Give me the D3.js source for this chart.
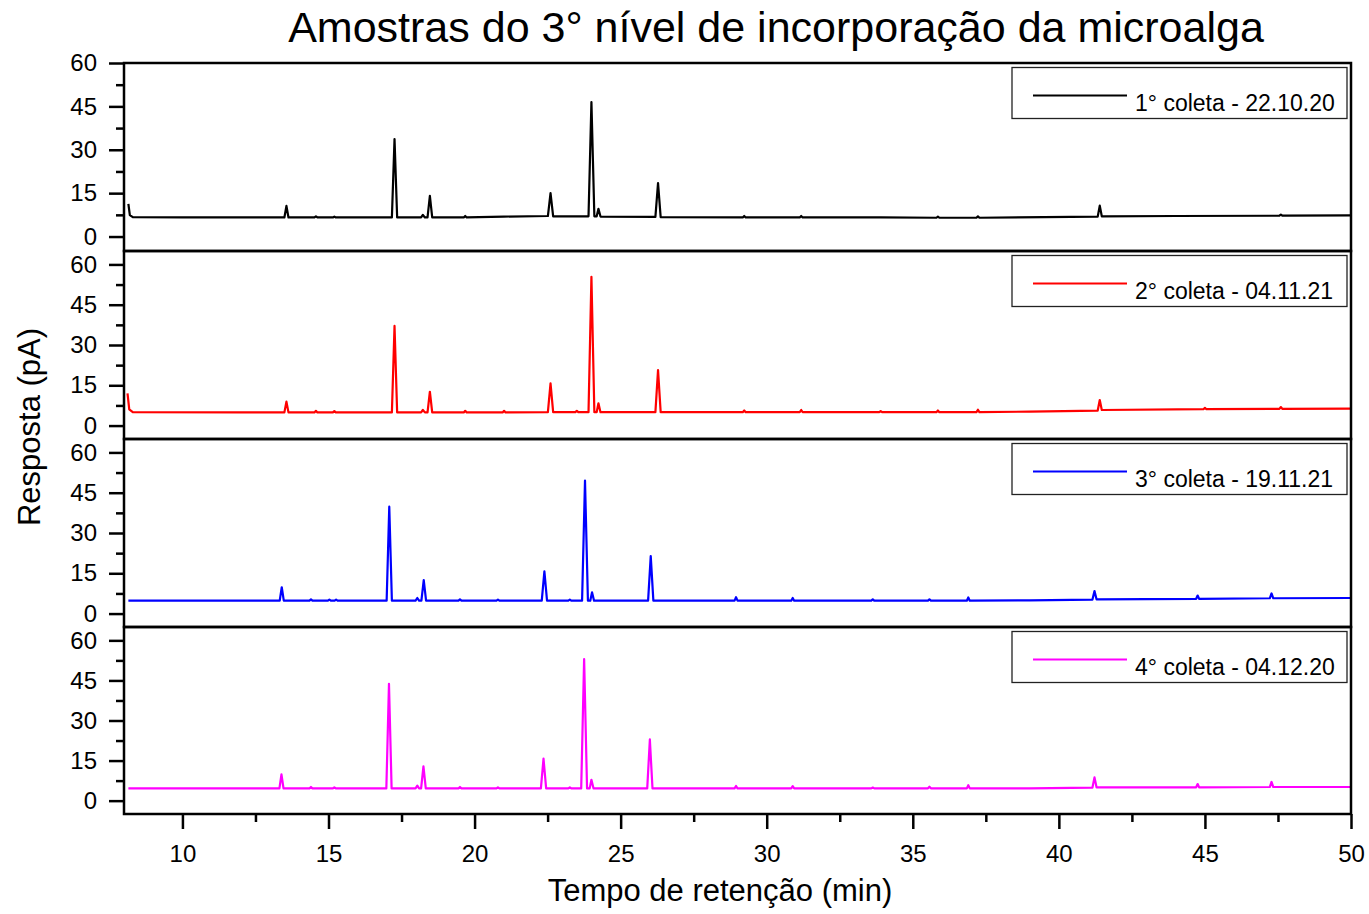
<!DOCTYPE html>
<html>
<head>
<meta charset="utf-8">
<script src="https://cdn.jsdelivr.net/npm/d3@7"></script>
<style>
  body { margin: 0; background: #ffffff; }
  svg { font-family: "Liberation Sans", Arial, sans-serif; }
</style>
</head>
<body>
<svg id="chart" width="1369" height="914"></svg>
<script>
// Chart values
var series_names = ["1° coleta - 22.10.20", "2° coleta - 04.11.21", "3° coleta - 19.11.21", "4° coleta - 04.12.20"];
var x_ticks = [10, 15, 20, 25, 30, 35, 40, 45, 50];
var x_minor = [12.5, 17.5, 22.5, 27.5, 32.5, 37.5, 42.5, 47.5];
var y_ticks = [0, 15, 30, 45, 60];
var y_minor = [7.5, 22.5, 37.5, 52.5];

// [tempo (min), resposta (pA)]
var coleta_1 = [
  [8.15, 11.3], [8.2, 7.4], [8.3, 6.7], [10.0, 6.6], [12.0, 6.6],
  [13.49, 6.6], [13.56, 10.6], [13.63, 6.6],
  [14.52, 6.6], [14.57, 7.0], [14.62, 6.6],
  [15.15, 6.6], [15.2, 6.9], [15.25, 6.6],
  [17.17, 6.6], [17.26, 33.7], [17.35, 6.6],
  [18.17, 6.6], [18.23, 7.5], [18.3, 6.6],
  [18.39, 6.6], [18.47, 14.1], [18.55, 6.6],
  [19.63, 6.6], [19.68, 7.1], [19.73, 6.6],
  [21.0, 6.9], [22.51, 7.1], [22.6, 15.0], [22.69, 7.0],
  [23.9, 7.0], [24.0, 46.5], [24.1, 7.0],
  [24.18, 7.0], [24.24, 9.6], [24.31, 6.9],
  [26.19, 6.8], [26.28, 18.5], [26.37, 6.7],
  [29.18, 6.6], [29.23, 7.1], [29.28, 6.6],
  [31.13, 6.6], [31.18, 7.1], [31.23, 6.6],
  [33.9, 6.6], [35.81, 6.5], [35.86, 6.9], [35.91, 6.5],
  [37.18, 6.5], [37.23, 7.0], [37.28, 6.5],
  [39.5, 6.7], [41.33, 6.9], [41.4, 10.7], [41.47, 7.0],
  [44.0, 7.1], [47.55, 7.2], [47.6, 7.6], [47.65, 7.2], [50.0, 7.3]
];

var coleta_2 = [
  [8.12, 12.0], [8.18, 6.0], [8.3, 5.0], [12.0, 4.9],
  [13.49, 4.9], [13.56, 8.9], [13.63, 4.9],
  [14.52, 4.9], [14.57, 5.5], [14.62, 4.9],
  [15.15, 4.9], [15.2, 5.4], [15.25, 4.9],
  [17.17, 4.9], [17.26, 37.1], [17.35, 4.9],
  [18.17, 4.9], [18.23, 5.8], [18.3, 4.9],
  [18.39, 4.9], [18.47, 12.6], [18.55, 4.9],
  [19.63, 4.9], [19.68, 5.5], [19.73, 4.9],
  [20.96, 4.9], [21.01, 5.5], [21.06, 4.9],
  [22.51, 5.0], [22.6, 15.7], [22.69, 5.0],
  [23.45, 5.0], [23.5, 5.5], [23.55, 5.0],
  [23.9, 5.0], [24.0, 55.4], [24.1, 5.0],
  [24.18, 5.0], [24.24, 8.3], [24.31, 5.0],
  [26.19, 5.0], [26.28, 20.7], [26.37, 5.0],
  [29.18, 5.0], [29.23, 5.6], [29.28, 5.0],
  [31.13, 5.0], [31.18, 5.8], [31.23, 5.0],
  [33.85, 5.0], [33.9, 5.4], [33.95, 5.0],
  [35.81, 5.0], [35.86, 5.6], [35.91, 5.0],
  [37.18, 5.0], [37.23, 5.9], [37.28, 5.0],
  [39.0, 5.2], [41.33, 5.6], [41.4, 9.5], [41.47, 5.8],
  [44.95, 6.1], [45.0, 6.6], [45.05, 6.1],
  [47.55, 6.2], [47.6, 6.9], [47.65, 6.2], [50.0, 6.3]
];

var coleta_3 = [
  [8.15, 4.8], [13.33, 4.8], [13.4, 9.8], [13.47, 4.8],
  [14.35, 4.8], [14.4, 5.3], [14.45, 4.8],
  [14.98, 4.8], [15.03, 5.2], [15.08, 4.8],
  [15.21, 4.8], [15.26, 5.2], [15.31, 4.8],
  [16.99, 4.8], [17.08, 39.8], [17.17, 4.8],
  [17.98, 4.8], [18.04, 5.8], [18.1, 4.8],
  [18.18, 4.8], [18.26, 12.5], [18.34, 4.8],
  [19.45, 4.8], [19.5, 5.3], [19.55, 4.8],
  [20.75, 4.8], [20.8, 5.2], [20.85, 4.8],
  [22.3, 4.8], [22.39, 15.7], [22.48, 4.8],
  [23.21, 4.8], [23.26, 5.2], [23.31, 4.8],
  [23.68, 4.8], [23.78, 49.5], [23.88, 4.8],
  [23.96, 4.8], [24.02, 7.9], [24.09, 4.8],
  [25.94, 4.8], [26.03, 21.4], [26.12, 4.8],
  [28.9, 4.8], [28.95, 6.1], [29.0, 4.8],
  [30.84, 4.8], [30.89, 5.8], [30.94, 4.8],
  [33.58, 4.8], [33.63, 5.3], [33.68, 4.8],
  [35.52, 4.8], [35.57, 5.3], [35.62, 4.8],
  [36.85, 4.8], [36.9, 6.0], [36.95, 4.8],
  [39.0, 4.9], [41.15, 5.2], [41.22, 8.4], [41.29, 5.3],
  [44.7, 5.5], [44.75, 6.7], [44.8, 5.5],
  [47.22, 5.7], [47.28, 7.5], [47.34, 5.7], [50.0, 5.8]
];

var coleta_4 = [
  [8.15, 4.6], [13.32, 4.6], [13.39, 9.8], [13.46, 4.6],
  [14.35, 4.6], [14.4, 5.1], [14.45, 4.6],
  [15.15, 4.6], [15.2, 5.0], [15.25, 4.6],
  [16.98, 4.6], [17.07, 43.7], [17.16, 4.6],
  [17.98, 4.6], [18.04, 5.6], [18.1, 4.6],
  [18.17, 4.6], [18.25, 12.8], [18.33, 4.6],
  [19.45, 4.6], [19.5, 5.1], [19.55, 4.6],
  [20.75, 4.6], [20.8, 5.0], [20.85, 4.6],
  [22.27, 4.6], [22.36, 15.7], [22.45, 4.6],
  [23.21, 4.6], [23.26, 5.0], [23.31, 4.6],
  [23.65, 4.6], [23.75, 53.0], [23.85, 4.6],
  [23.94, 4.6], [24.0, 7.8], [24.07, 4.6],
  [25.91, 4.6], [26.0, 22.9], [26.09, 4.6],
  [28.9, 4.6], [28.95, 5.5], [29.0, 4.6],
  [30.84, 4.6], [30.89, 5.4], [30.94, 4.6],
  [33.58, 4.6], [33.63, 4.9], [33.68, 4.6],
  [35.52, 4.6], [35.57, 5.2], [35.62, 4.6],
  [36.85, 4.6], [36.9, 5.8], [36.95, 4.6],
  [39.0, 4.6], [41.15, 4.9], [41.22, 8.7], [41.29, 5.0],
  [44.7, 5.0], [44.75, 6.2], [44.8, 5.0],
  [47.22, 5.1], [47.28, 7.0], [47.34, 5.1], [50.0, 5.1]
];

var series_data = [coleta_1, coleta_2, coleta_3, coleta_4];
var y_domains = [[-5, 60], [-5, 65], [-5, 65], [-5, 65]];

// Layout and looks
var series_colors = ["#000000", "#ff0000", "#0000ff", "#ff00ff"];
var plot_left = 124;
var plot_right = 1351;
var panel_edges = [63, 251, 439, 627, 814];
var font_ticks = 24;

window.addEventListener('load', function ()
{
  build_chart();
});

function build_chart()
{
  let svg = d3.select("#chart");

  let x = d3.scaleLinear().domain([8, 50]).range([plot_left, plot_right]);

  // Title
  svg.append("text")
    .attr("x", 776)
    .attr("y", 42)
    .attr("text-anchor", "middle")
    .style("font-size", "43px")
    .text("Amostras do 3° nível de incorporação da microalga");

  for (let i = 0; i < series_data.length; i++)
  {
    build_panel(svg, x, i);
  }

  // Bottom axis
  let bottom = panel_edges[panel_edges.length - 1];
  let x_axis = svg.append("g")
    .attr("transform", "translate(0," + bottom + ")")
    .call(d3.axisBottom(x).tickValues(x_ticks).tickSize(15).tickPadding(16).tickSizeOuter(0));
  x_axis.select(".domain").remove();
  x_axis.selectAll("line").attr("stroke-width", 2.5);
  x_axis.selectAll("text").style("font-size", font_ticks + "px").attr("fill", "#000");

  let x_minor_axis = svg.append("g")
    .attr("transform", "translate(0," + bottom + ")")
    .call(d3.axisBottom(x).tickValues(x_minor).tickSize(8).tickFormat(""));
  x_minor_axis.select(".domain").remove();
  x_minor_axis.selectAll("line").attr("stroke-width", 2.5);

  // Axis titles
  svg.append("text")
    .attr("x", 720)
    .attr("y", 901)
    .attr("text-anchor", "middle")
    .style("font-size", "31px")
    .text("Tempo de retenção (min)");

  svg.append("text")
    .attr("transform", "translate(40,427) rotate(-90)")
    .attr("text-anchor", "middle")
    .style("font-size", "31px")
    .text("Resposta (pA)");
}

function build_panel(svg, x, i)
{
  let top = panel_edges[i];
  let bottom = panel_edges[i + 1];
  let y = d3.scaleLinear().domain(y_domains[i]).range([bottom, top]);

  // clip so the trace stays inside its panel
  svg.append("defs").append("clipPath")
    .attr("id", "clip-" + i)
    .append("rect")
    .attr("x", plot_left)
    .attr("y", top)
    .attr("width", plot_right - plot_left)
    .attr("height", bottom - top);

  let line = d3.line()
    .x(function(d) {return x(d[0]);})
    .y(function(d) {return y(d[1]);});

  svg.append("path")
    .datum(series_data[i])
    .attr("clip-path", "url(#clip-" + i + ")")
    .attr("d", line)
    .attr("fill", "none")
    .attr("stroke", series_colors[i])
    .attr("stroke-width", 2.2)
    .attr("stroke-linejoin", "round");

  // Left axis with major and minor ticks
  let y_axis = svg.append("g")
    .attr("transform", "translate(" + plot_left + ",0)")
    .call(d3.axisLeft(y).tickValues(y_ticks).tickSize(15).tickPadding(12).tickSizeOuter(0));
  y_axis.select(".domain").remove();
  y_axis.selectAll("line").attr("stroke-width", 2.5);
  y_axis.selectAll("text").style("font-size", font_ticks + "px").attr("fill", "#000");

  let y_minor_axis = svg.append("g")
    .attr("transform", "translate(" + plot_left + ",0)")
    .call(d3.axisLeft(y).tickValues(y_minor).tickSize(8).tickFormat(""));
  y_minor_axis.select(".domain").remove();
  y_minor_axis.selectAll("line").attr("stroke-width", 2.5);

  // Panel frame
  svg.append("rect")
    .attr("x", plot_left)
    .attr("y", top)
    .attr("width", plot_right - plot_left)
    .attr("height", bottom - top)
    .attr("fill", "none")
    .attr("stroke", "#000")
    .attr("stroke-width", 2.5);

  // Legend
  let lg = svg.append("g").attr("transform", "translate(1012," + (top + 4.5) + ")");
  lg.append("rect")
    .attr("width", 335)
    .attr("height", 51)
    .attr("fill", "#fff")
    .attr("stroke", "#222")
    .attr("stroke-width", 1.3);
  lg.append("line")
    .attr("x1", 21).attr("x2", 115)
    .attr("y1", 28).attr("y2", 28)
    .attr("stroke", series_colors[i])
    .attr("stroke-width", 2);
  lg.append("text")
    .attr("x", 123)
    .attr("y", 43)
    .style("font-size", "23px")
    .text(series_names[i]);
}
</script>
</body>
</html>
